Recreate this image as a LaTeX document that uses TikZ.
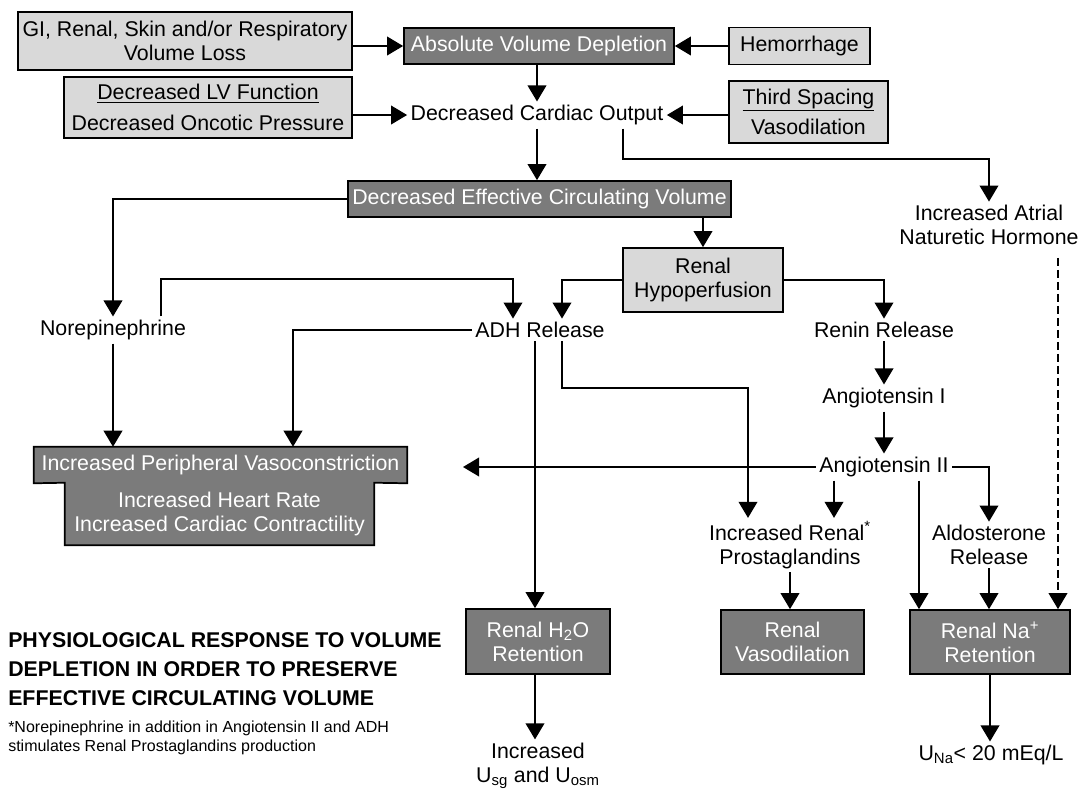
\documentclass[tikz,border=0pt]{standalone}
\usepackage{fontspec}
\setmainfont{Liberation Sans}
\usepackage{tikz}
\usepackage{xcolor}
\usetikzlibrary{arrows.meta,positioning,calc,backgrounds}

\definecolor{boxdark}{HTML}{7B7B7B}
\definecolor{boxlight}{HTML}{D9D9D9}

\begin{document}
\begin{tikzpicture}[
  x=0.75pt, y=-0.75pt,
  font=\fontsize{16}{18}\selectfont,
  box/.style={draw=black, line width=1.3pt, align=center, inner sep=3pt},
  dark/.style={box, fill=boxdark, text=white},
  light/.style={box, fill=boxlight},
  fact/.style={align=center, inner sep=2.5pt},
  arrow/.style={-{Triangle[length=12pt,width=14pt]}, line width=1.1pt}
]
  \useasboundingbox (0,0) rectangle (1079,790);

  \node[light, minimum width=250.5pt, minimum height=43.5pt] (loss) at (185,41) {GI, Renal, Skin and/or Respiratory\\Volume Loss};
  \node[dark, minimum width=202.5pt, minimum height=27pt] (absdep) at (539,46) {Absolute Volume Depletion};
  \node[light, minimum width=105.75pt, minimum height=27.75pt] (hemo) at (799.5,46) {Hemorrhage};
  \node[light, minimum width=216pt, minimum height=45.75pt] (lvfun) at (208,107.5) {\underline{Decreased LV Function}\\[5pt]Decreased Oncotic Pressure};
  \node[fact] (dco) at (537,115) {Decreased Cardiac Output};
  \node[light, minimum width=119.25pt, minimum height=46.5pt] (third) at (808.5,112) {\underline{Third Spacing}\\[5pt]Vasodilation};
  \node[dark, minimum width=287.25pt, minimum height=27pt] (decv) at (539.5,199) {Decreased Effective Circulating Volume};
  \node[fact] (anh) at (989,225) {Increased Atrial\\Naturetic Hormone};
  \node[light, minimum width=120pt, minimum height=48pt] (hypo) at (703,280) {Renal\\Hypoperfusion};
  \node[fact] (norepi) at (113,330) {Norepinephrine};
  \node[fact] (adh) at (540,330) {ADH Release};
  \node[fact] (renin) at (884,330) {Renin Release};
  \node[fact] (ang1) at (884,398) {Angiotensin I};
  \node[fact] (ang2) at (884,467) {Angiotensin II};
  \node[fact] (prost) at (790,545) {Increased Renal\textsuperscript{*}\\Prostaglandins};
  \node[fact] (aldo) at (989,545) {Aldosterone\\Release};
  \node[minimum width=279.75pt, minimum height=27pt, inner sep=0pt, text=white] (ipv) at (220.5,465) {Increased Peripheral Vasoconstriction};
  \node[minimum width=231.75pt, minimum height=46.5pt, inner sep=0pt, text=white, align=center] (ipvlow) at (219.5,514) {Increased Heart Rate\\Increased Cardiac Contractility};
  \node[dark, minimum width=108pt, minimum height=48.75pt] (h2o) at (538,641.5) {Renal H\textsubscript{2}O\\Retention};
  \node[dark, minimum width=107.25pt, minimum height=48pt] (vaso) at (792.5,642) {Renal\\Vasodilation};
  \node[dark, minimum width=120pt, minimum height=48pt] (naret) at (990,642) {Renal Na\textsuperscript{+}\\Retention};
  \node[fact] (usg) at (538,766) {Increased\\U\textsubscript{sg} and U\textsubscript{osm}};
  \node[fact] (una) at (991,755) {U\textsubscript{Na}< 20 mEq/L};
  \node[anchor=west, align=left, inner sep=0pt, font=\bfseries\fontsize{16}{21.5}\selectfont] (title) at (8,669) {PHYSIOLOGICAL RESPONSE TO VOLUME\\DEPLETION IN ORDER TO PRESERVE\\EFFECTIVE CIRCULATING VOLUME};
  \node[anchor=west, align=left, inner sep=0pt, font=\fontsize{12}{14.25}\selectfont] (footnote) at (8,738) {*Norepinephrine in addition in Angiotensin II and ADH\\stimulates Renal Prostaglandins production};

  \begin{scope}[on background layer]
    \draw[fill=boxdark, line width=1.3pt] (ipv.north west) -- (ipv.north east) -- (ipv.south east) -- (ipvlow.north east)
      -- (ipvlow.south east) -- (ipvlow.south west) -- (ipvlow.north west) -- (ipv.south west) -- cycle;
  \end{scope}

  \coordinate (anhbend) at (989,159);
  \coordinate (neup) at (161,279);
  \coordinate (adhin) at (513,279);
  \coordinate (hypol) at (562,279);
  \coordinate (adhturn) at (562,388);
  \coordinate (prostleft) at (748,388);
  \coordinate (adhcol) at (535,0);
  \coordinate (adhleft) at (293,0);
  \coordinate (prostcol) at (834,0);
  \coordinate (nacol) at (919,0);
  \coordinate (anhcol) at (1058,0);
  \coordinate (ipvtip) at (463,467);

  \draw[arrow] (loss.east |- absdep) -- (absdep);
  \draw[arrow] (hemo) -- (absdep);
  \draw[arrow] (absdep.south -| dco) -- (dco);
  \draw[arrow] (lvfun.east |- dco) -- (dco);
  \draw[arrow] (third.west |- dco) -- (dco);
  \draw[arrow] (dco) -- (decv.north -| dco);
  \draw[arrow] ([xshift=64.5pt]dco.south) |- (anhbend) -- (anh);
  \draw[arrow] (decv.west) -| (norepi);
  \draw[arrow] (neup |- norepi.north) -- (neup) -- (adhin) -- (adhin |- adh.north);
  \draw[arrow] (decv.south -| hypo) -- (hypo);
  \draw[arrow] (hypo.west) -| (hypol |- adh.north);
  \draw[arrow] (hypo.east) -| (renin);
  \draw[arrow] (renin) -- (ang1);
  \draw[arrow] (ang1) -- (ang2);
  \draw[arrow] (norepi) -- (norepi |- ipv.north);
  \draw[arrow] (adh.west) -| (adhleft |- ipv.north);
  \draw[arrow] (adhcol |- adh.south) -- (adhcol |- h2o.north);
  \draw[arrow] (adhturn |- adh.south) -- (adhturn) -| (prostleft |- prost.north);
  \draw[arrow] (ang2) -- (ipvtip);
  \draw[arrow] (prostcol |- ang2.south) -- (prostcol |- prost.north);
  \draw[arrow] (nacol |- ang2.south) -- (nacol |- naret.north);
  \draw[arrow] (ang2.east) -| (aldo);
  \draw[arrow] (prost.south) -- (prost.south |- vaso.north);
  \draw[arrow] (aldo) -- (aldo |- naret.north);
  \draw[arrow, dash pattern=on 6pt off 3pt] ([yshift=-7pt]anhcol |- anh.south) -- (anhcol |- naret.north);
  \draw[arrow] (naret) -- (naret |- una.north);
  \draw[arrow] (adhcol |- h2o.south) -- (adhcol |- usg.north);
\end{tikzpicture}
\end{document}
